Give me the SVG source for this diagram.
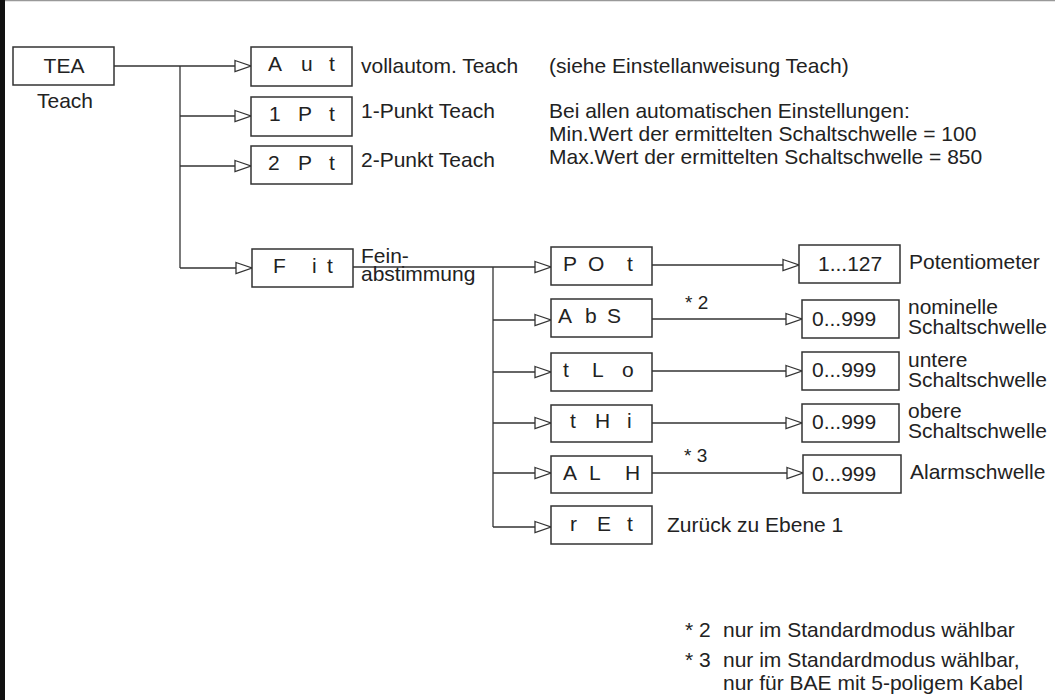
<svg xmlns="http://www.w3.org/2000/svg" width="1055" height="700" viewBox="0 0 1055 700">
<style>
text{font-family:"Liberation Sans",Arial,Helvetica,sans-serif;font-size:21px;fill:#222}
.box{fill:#fff;stroke:#333;stroke-width:1.5}
.ln{fill:none;stroke:#333;stroke-width:1.3}
.arr{fill:none;stroke:#333;stroke-width:1.3;marker-end:url(#tri)}
.ast{font-size:19px}
</style>
<defs>
<marker id="tri" markerUnits="userSpaceOnUse" markerWidth="20" markerHeight="14" refX="16" refY="5.5" orient="auto" overflow="visible">
<path d="M0,0 L16,5.5 L0,11 Z" fill="#fff" stroke="#333" stroke-width="1.3"/>
</marker>
</defs>
<rect x="0" y="0" width="1055" height="700" fill="#fff"/>
<line x1="0" y1="0.5" x2="1055" y2="0.5" stroke="#999" stroke-width="1.5"/>
<rect x="0" y="0" width="5" height="700" fill="#111"/>

<g id="connectors">
<path class="arr" d="M114,66 H251"/>
<path class="ln" d="M180,66 V268"/>
<path class="arr" d="M180,116 H251"/>
<path class="arr" d="M180,166 H251"/>
<path class="arr" d="M180,268 H252"/>
<path class="arr" d="M353,267 H551"/>
<path class="ln" d="M493,267 V527"/>
<path class="arr" d="M493,320 H551"/>
<path class="arr" d="M493,372 H551"/>
<path class="arr" d="M493,423 H551"/>
<path class="arr" d="M493,473 H551"/>
<path class="arr" d="M493,527 H551"/>
<path class="arr" d="M652,265 H799"/>
<path class="arr" d="M652,319 H802"/>
<path class="arr" d="M652,371 H802"/>
<path class="arr" d="M652,423 H802"/>
<path class="arr" d="M652,473 H803"/>
</g>

<g id="node-tea">
<rect class="box" x="13" y="47" width="101" height="38"/>
<text x="64" y="73" text-anchor="middle">TEA</text>
<text x="37" y="108">Teach</text>
</g>
<g id="node-aut">
<rect class="box" x="251" y="47" width="101" height="39"/>
<text x="268 301 329" y="71">Aut</text>
<text x="361" y="73">vollautom. Teach</text>
</g>
<g id="node-1pt">
<rect class="box" x="251" y="97" width="101" height="39"/>
<text x="269 298 329" y="121">1Pt</text>
<text x="361" y="118">1-Punkt Teach</text>
</g>
<g id="node-2pt">
<rect class="box" x="251" y="146" width="101" height="38"/>
<text x="268 298 329" y="170">2Pt</text>
<text x="361" y="167">2-Punkt Teach</text>
</g>
<g id="note-teach">
<text x="549" y="73">(siehe Einstellanweisung Teach)</text>
<text x="549" y="118">Bei allen automatischen Einstellungen:</text>
<text x="549" y="141">Min.Wert der ermittelten Schaltschwelle = 100</text>
<text x="549" y="164">Max.Wert der ermittelten Schaltschwelle = 850</text>
</g>
<g id="node-fit">
<rect class="box" x="252" y="249" width="101" height="38"/>
<text x="273 312 327" y="273">Fit</text>
<text x="361" y="263">Fein-</text>
<text x="361" y="281">abstimmung</text>
</g>
<g id="node-pot">
<rect class="box" x="551" y="247" width="101" height="38"/>
<text x="563 588 627" y="271">POt</text>
</g>
<g id="node-abs">
<rect class="box" x="551" y="299" width="101" height="38"/>
<text x="558 585 607" y="323">AbS</text>
<text class="ast" x="685" y="309">* 2</text>
</g>
<g id="node-tlo">
<rect class="box" x="551" y="353" width="101" height="38"/>
<text x="563 592 622" y="377">tLo</text>
</g>
<g id="node-thi">
<rect class="box" x="551" y="405" width="101" height="37"/>
<text x="570 595 627" y="428">tHi</text>
</g>
<g id="node-alh">
<rect class="box" x="551" y="456" width="101" height="37"/>
<text x="563 589 625" y="480">ALH</text>
<text class="ast" x="684" y="462">* 3</text>
</g>
<g id="node-ret">
<rect class="box" x="551" y="506" width="101" height="38"/>
<text x="570 597 627" y="531">rEt</text>
<text x="667" y="532">Zurück zu Ebene 1</text>
</g>
<g id="val-pot">
<rect class="box" x="799" y="245" width="101" height="38"/>
<text x="818" y="271">1...127</text>
<text x="909" y="269">Potentiometer</text>
</g>
<g id="val-abs">
<rect class="box" x="802" y="300" width="97" height="38"/>
<text x="812" y="326">0...999</text>
<text x="908" y="314">nominelle</text>
<text x="908" y="334">Schaltschwelle</text>
</g>
<g id="val-tlo">
<rect class="box" x="802" y="352" width="97" height="38"/>
<text x="812" y="377">0...999</text>
<text x="908" y="367">untere</text>
<text x="908" y="387">Schaltschwelle</text>
</g>
<g id="val-thi">
<rect class="box" x="802" y="404" width="97" height="38"/>
<text x="812" y="429">0...999</text>
<text x="908" y="418">obere</text>
<text x="908" y="438">Schaltschwelle</text>
</g>
<g id="val-alh">
<rect class="box" x="803" y="455" width="98" height="38"/>
<text x="812" y="481">0...999</text>
<text x="910" y="479">Alarmschwelle</text>
</g>
<g id="footnotes">
<text x="685" y="637">* 2</text>
<text x="723" y="637">nur im Standardmodus wählbar</text>
<text x="685" y="667">* 3</text>
<text x="723" y="667">nur im Standardmodus wählbar,</text>
<text x="723" y="690">nur für BAE mit 5-poligem Kabel</text>
</g>
</svg>
